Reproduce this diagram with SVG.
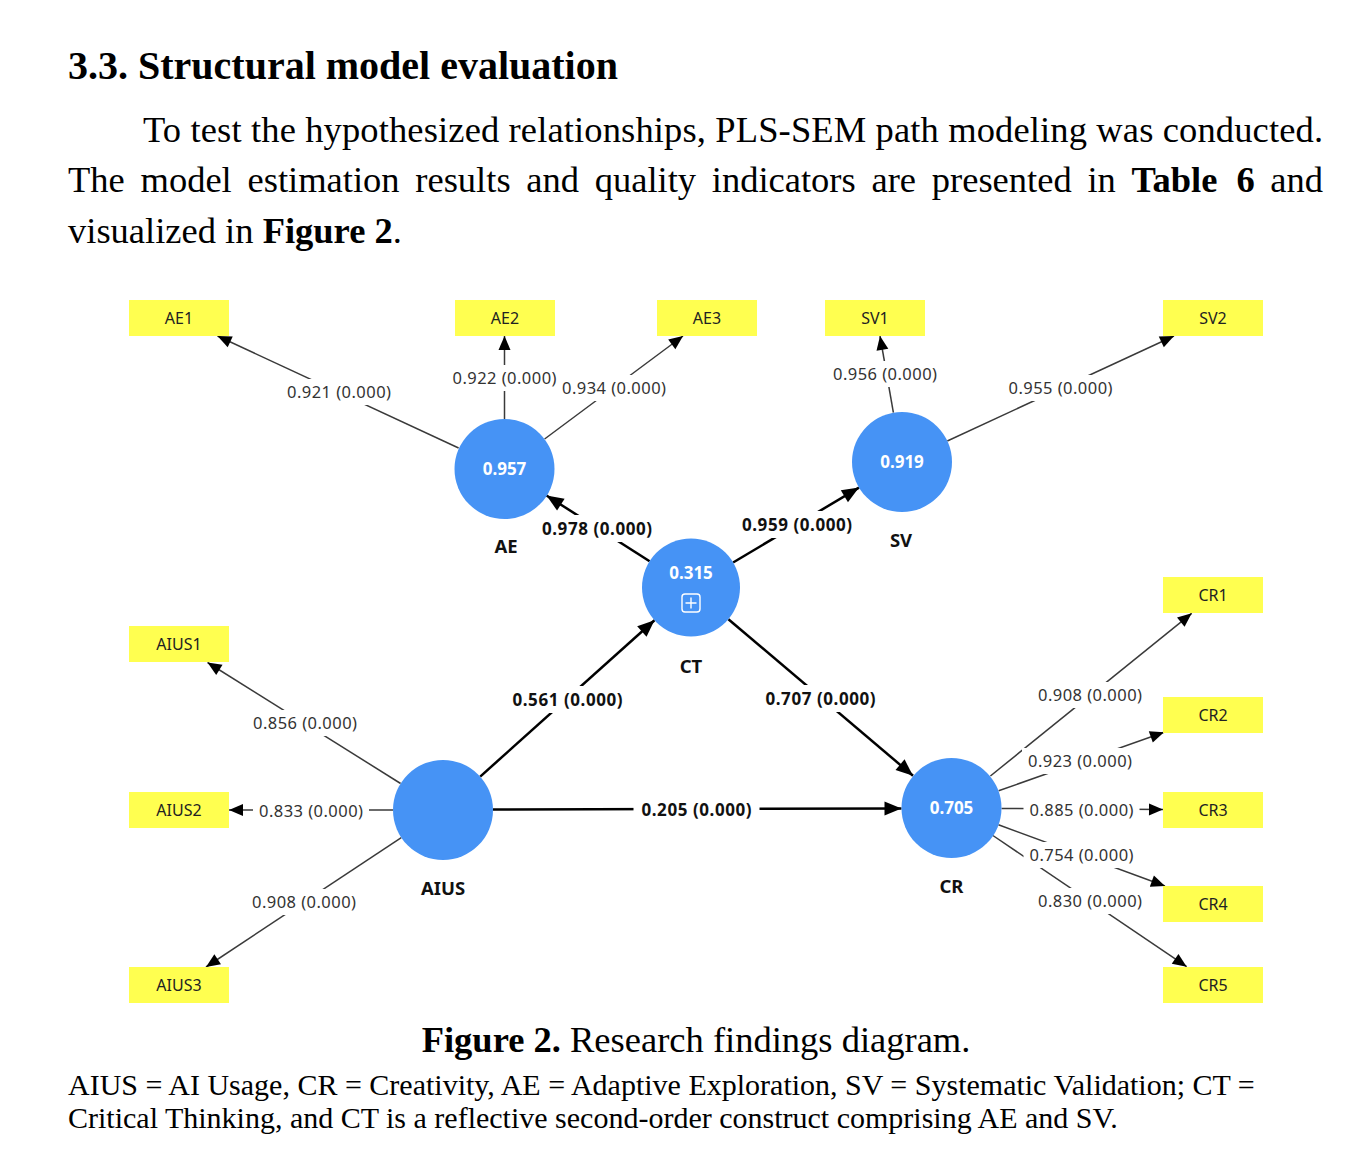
<svg xmlns="http://www.w3.org/2000/svg" width="1368" height="1170" viewBox="0 0 1368 1170">
<defs>
<style>
.body{font-family:"Liberation Serif","Times New Roman",serif;fill:#000}
.b{font-weight:bold}
.ind{fill:#ffff50}
.indt{font-family:"Noto Sans","Open Sans",sans-serif;font-size:16px;fill:#222;text-anchor:middle}
.lv{fill:#4693f5}
.lvv{font-family:"Noto Sans","Open Sans",sans-serif;font-size:17px;font-weight:bold;fill:#fff;text-anchor:middle}
.lvn{font-family:"Noto Sans","Open Sans",sans-serif;font-size:18.5px;font-weight:bold;fill:#111;text-anchor:middle}
.ld{stroke:#3a3a3a;stroke-width:1.5;fill:none;marker-end:url(#ah)}
.sp{stroke:#000;stroke-width:2.5;fill:none;marker-end:url(#ahb)}
.gap{fill:#fff}
.lt{font-family:"Noto Sans","Open Sans",sans-serif;font-size:16.5px;fill:#333;text-anchor:middle}
.st{font-family:"Noto Sans","Open Sans",sans-serif;font-size:17px;font-weight:bold;fill:#111;text-anchor:middle}
</style>
<marker id="ah" markerUnits="userSpaceOnUse" markerWidth="15" markerHeight="12" refX="14" refY="6" orient="auto" overflow="visible">
<path d="M0,0 L14,6 L0,12 z" fill="#000"/>
</marker>
<marker id="ahb" markerUnits="userSpaceOnUse" markerWidth="18" markerHeight="14" refX="17" refY="7" orient="auto" overflow="visible">
<path d="M0,0 L17,7 L0,14 z" fill="#000"/>
</marker>
</defs>
<rect x="0" y="0" width="1368" height="1170" fill="#fff"/>

<g id="text-header">
<text class="body b" x="68" y="79" font-size="40">3.3. Structural model evaluation</text>
<text class="body" x="143" y="142" font-size="36.5" textLength="1180" lengthAdjust="spacing">To test the hypothesized relationships, PLS-SEM path modeling was conducted.</text>
<text class="body" y="192" font-size="36.5"><tspan x="68">The</tspan><tspan x="140.5">model</tspan><tspan x="247.5">estimation</tspan><tspan x="415.3">results</tspan><tspan x="526.3">and</tspan><tspan x="594.7">quality</tspan><tspan x="711.8">indicators</tspan><tspan x="871.5">are</tspan><tspan x="931.8">presented</tspan><tspan x="1087.4">in</tspan><tspan x="1131.5" font-weight="bold">Table</tspan><tspan x="1236.4" font-weight="bold">6</tspan><tspan x="1270.3">and</tspan></text>
<text class="body" x="68" y="242.5" font-size="36.5">visualized in <tspan font-weight="bold">Figure 2</tspan>.</text>
</g>

<g id="connectors">
<line class="ld" x1="458.6" y1="448" x2="217.5" y2="336"/>
<line class="ld" x1="504.5" y1="419" x2="504.5" y2="336"/>
<line class="ld" x1="544.6" y1="439" x2="683" y2="336"/>
<line class="ld" x1="893.4" y1="412.7" x2="880" y2="336"/>
<line class="ld" x1="947.3" y1="441" x2="1174" y2="336"/>
<line class="ld" x1="400.6" y1="783.5" x2="207.5" y2="662.5"/>
<line class="ld" x1="393" y1="810" x2="229" y2="810"/>
<line class="ld" x1="401.3" y1="837.6" x2="206" y2="967"/>
<line class="ld" x1="990.4" y1="776" x2="1191.7" y2="613.3"/>
<line class="ld" x1="998.6" y1="790.8" x2="1164" y2="732.3"/>
<line class="ld" x1="1001.5" y1="808.5" x2="1163" y2="809.5"/>
<line class="ld" x1="998.4" y1="824.8" x2="1165" y2="886"/>
<line class="ld" x1="992.9" y1="835.5" x2="1186.7" y2="966.7"/>
<line class="sp" x1="649.6" y1="561.2" x2="546.5" y2="495.5"/>
<line class="sp" x1="733.1" y1="562.5" x2="859" y2="487.6"/>
<line class="sp" x1="480.2" y1="776.6" x2="654.5" y2="620.2"/>
<line class="sp" x1="728.4" y1="619.2" x2="913" y2="775.7"/>
<line class="sp" x1="493" y1="809.5" x2="901.5" y2="808.5"/>

<rect class="gap" x="281" y="379" width="116" height="26"/>
<rect class="gap" x="446.5" y="365" width="116" height="26"/>
<rect class="gap" x="556" y="375" width="116" height="26"/>
<rect class="gap" x="827" y="361" width="116" height="26"/>
<rect class="gap" x="1002.5" y="375" width="116" height="26"/>
<rect class="gap" x="247" y="710" width="116" height="26"/>
<rect class="gap" x="253" y="798" width="116" height="26"/>
<rect class="gap" x="246" y="889" width="116" height="26"/>
<rect class="gap" x="1032" y="682" width="116" height="26"/>
<rect class="gap" x="1022" y="748" width="116" height="26"/>
<rect class="gap" x="1023.5" y="797" width="116" height="26"/>
<rect class="gap" x="1023.5" y="842" width="116" height="26"/>
<rect class="gap" x="1032" y="888" width="116" height="26"/>
<rect class="gap" x="534" y="515" width="126" height="27"/>
<rect class="gap" x="734" y="511" width="126" height="27"/>
<rect class="gap" x="504.5" y="686" width="126" height="27"/>
<rect class="gap" x="757.5" y="685" width="126" height="27"/>
<rect class="gap" x="633.5" y="796" width="126" height="27"/>

<text class="lt" x="339" y="398" textLength="104">0.921 (0.000)</text>
<text class="lt" x="504.5" y="384" textLength="104">0.922 (0.000)</text>
<text class="lt" x="614" y="394" textLength="104">0.934 (0.000)</text>
<text class="lt" x="885" y="380" textLength="104">0.956 (0.000)</text>
<text class="lt" x="1060.5" y="394" textLength="104">0.955 (0.000)</text>
<text class="lt" x="305" y="729" textLength="104">0.856 (0.000)</text>
<text class="lt" x="311" y="817" textLength="104">0.833 (0.000)</text>
<text class="lt" x="304" y="908" textLength="104">0.908 (0.000)</text>
<text class="lt" x="1090" y="701" textLength="104">0.908 (0.000)</text>
<text class="lt" x="1080" y="767" textLength="104">0.923 (0.000)</text>
<text class="lt" x="1081.5" y="816" textLength="104">0.885 (0.000)</text>
<text class="lt" x="1081.5" y="861" textLength="104">0.754 (0.000)</text>
<text class="lt" x="1090" y="907" textLength="104">0.830 (0.000)</text>
<text class="st" x="597" y="535" textLength="110">0.978 (0.000)</text>
<text class="st" x="797" y="531" textLength="110">0.959 (0.000)</text>
<text class="st" x="567.5" y="706" textLength="110">0.561 (0.000)</text>
<text class="st" x="820.5" y="705" textLength="110">0.707 (0.000)</text>
<text class="st" x="696.5" y="816" textLength="110">0.205 (0.000)</text>
</g>

<g id="AE1"><rect class="ind" x="129" y="300" width="100" height="36"/><text class="indt" x="179" y="324">AE1</text></g>
<g id="AE2"><rect class="ind" x="455" y="300" width="100" height="36"/><text class="indt" x="505" y="324">AE2</text></g>
<g id="AE3"><rect class="ind" x="657" y="300" width="100" height="36"/><text class="indt" x="707" y="324">AE3</text></g>
<g id="SV1"><rect class="ind" x="825" y="300" width="100" height="36"/><text class="indt" x="875" y="324">SV1</text></g>
<g id="SV2"><rect class="ind" x="1163" y="300" width="100" height="36"/><text class="indt" x="1213" y="324">SV2</text></g>
<g id="AIUS1"><rect class="ind" x="129" y="626" width="100" height="36"/><text class="indt" x="179" y="650">AIUS1</text></g>
<g id="AIUS2"><rect class="ind" x="129" y="792" width="100" height="36"/><text class="indt" x="179" y="816">AIUS2</text></g>
<g id="AIUS3"><rect class="ind" x="129" y="967" width="100" height="36"/><text class="indt" x="179" y="991">AIUS3</text></g>
<g id="CR1"><rect class="ind" x="1163" y="577" width="100" height="36"/><text class="indt" x="1213" y="601">CR1</text></g>
<g id="CR2"><rect class="ind" x="1163" y="697" width="100" height="36"/><text class="indt" x="1213" y="721">CR2</text></g>
<g id="CR3"><rect class="ind" x="1163" y="792" width="100" height="36"/><text class="indt" x="1213" y="816">CR3</text></g>
<g id="CR4"><rect class="ind" x="1163" y="886" width="100" height="36"/><text class="indt" x="1213" y="910">CR4</text></g>
<g id="CR5"><rect class="ind" x="1163" y="967" width="100" height="36"/><text class="indt" x="1213" y="991">CR5</text></g>

<g id="AE"><circle class="lv" cx="504.5" cy="469" r="50"/><text class="lvv" x="504.5" y="475">0.957</text><text class="lvn" x="506" y="553">AE</text></g>
<g id="SV"><circle class="lv" cx="902" cy="462" r="50"/><text class="lvv" x="902" y="468">0.919</text><text class="lvn" x="901" y="547">SV</text></g>
<g id="CT"><circle class="lv" cx="691" cy="587.5" r="49"/><text class="lvv" x="691" y="579">0.315</text>
<rect x="682" y="594" width="18" height="18" rx="3" fill="none" stroke="#fff" stroke-width="1.4"/>
<path d="M685.5,603 H696.5 M691,597.5 V608.5" stroke="#fff" stroke-width="1.4"/>
<text class="lvn" x="691" y="673">CT</text></g>
<g id="AIUS"><circle class="lv" cx="443" cy="810" r="50"/><text class="lvn" x="443" y="895">AIUS</text></g>
<g id="CR"><circle class="lv" cx="951.5" cy="808" r="50"/><text class="lvv" x="951.5" y="814">0.705</text><text class="lvn" x="951.5" y="893">CR</text></g>

<g id="text-caption">
<text class="body" x="696" y="1052" font-size="36.5" text-anchor="middle"><tspan font-weight="bold">Figure 2.</tspan> Research findings diagram.</text>
<text class="body" x="68" y="1095" font-size="30">AIUS = AI Usage, CR = Creativity, AE = Adaptive Exploration, SV = Systematic Validation; CT =</text>
<text class="body" x="68" y="1128" font-size="30">Critical Thinking, and CT is a reflective second-order construct comprising AE and SV.</text>
</g>
</svg>
